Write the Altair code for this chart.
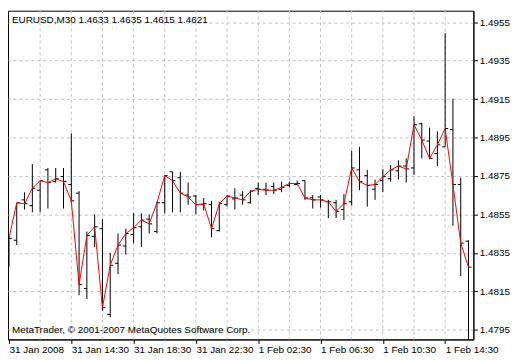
import json
import altair as alt
import pandas as pd

# ---- text ----
header_text = "EURUSD,M30  1.4633 1.4635 1.4615 1.4621"
copyright_text = "MetaTrader, \u00a9 2001-2007 MetaQuotes Software Corp."

# ---- axis labels ----
time_labels = ["31 Jan 2008", "31 Jan 14:30", "31 Jan 18:30", "31 Jan 22:30",
               "1 Feb 02:30", "1 Feb 06:30", "1 Feb 10:30", "1 Feb 14:30"]
price_ticks = [1.4795, 1.4815, 1.4835, 1.4855, 1.4875, 1.4895, 1.4915, 1.4935, 1.4955]

# ---- M30 OHLC bars ----
open_ = [1.48306, 1.48416, 1.48626, 1.48596, 1.48676, 1.48782, 1.48721, 1.48747,
         1.48706, 1.48661, 1.48165, 1.48436, 1.48476, 1.48030, 1.48296, 1.48386,
         1.48446, 1.48486, 1.48526, 1.48461, 1.48611, 1.48772, 1.48741, 1.48651,
         1.48646, 1.48601, 1.48601, 1.48466, 1.48601, 1.48631, 1.48651, 1.48611,
         1.48686, 1.48681, 1.48696, 1.48681, 1.48701, 1.48706, 1.48726, 1.48636,
         1.48641, 1.48616, 1.48611, 1.48576, 1.48616, 1.48782, 1.48752, 1.48681,
         1.48726, 1.48736, 1.48777, 1.48802, 1.48792, 1.49022, 1.48932, 1.48867,
         1.48902, 1.48992, 1.48706, 1.48411]
high = [1.48436, 1.48611, 1.48666, 1.48812, 1.48726, 1.48792, 1.48792, 1.48792,
        1.48972, 1.48671, 1.48461, 1.48551, 1.48526, 1.48351, 1.48451, 1.48476,
        1.48556, 1.48556, 1.48551, 1.48616, 1.48756, 1.48772, 1.48772, 1.48716,
        1.48651, 1.48636, 1.48621, 1.48616, 1.48651, 1.48686, 1.48671, 1.48676,
        1.48716, 1.48716, 1.48716, 1.48721, 1.48721, 1.48726, 1.48726, 1.48651,
        1.48651, 1.48626, 1.48626, 1.48656, 1.48882, 1.48902, 1.48782, 1.48731,
        1.48787, 1.48807, 1.48832, 1.48842, 1.49062, 1.49027, 1.49002, 1.48982,
        1.49493, 1.49152, 1.48741, 1.48416]
low = [1.48276, 1.48391, 1.48576, 1.48561, 1.48561, 1.48581, 1.48716, 1.48581,
       1.48611, 1.48130, 1.48110, 1.48381, 1.48050, 1.48015, 1.48240, 1.48341,
       1.48401, 1.48381, 1.48451, 1.48451, 1.48556, 1.48561, 1.48561, 1.48601,
       1.48551, 1.48571, 1.48431, 1.48461, 1.48591, 1.48576, 1.48601, 1.48606,
       1.48651, 1.48651, 1.48656, 1.48666, 1.48691, 1.48701, 1.48626, 1.48581,
       1.48586, 1.48531, 1.48531, 1.48521, 1.48596, 1.48676, 1.48591, 1.48626,
       1.48666, 1.48721, 1.48731, 1.48716, 1.48756, 1.48842, 1.48837, 1.48802,
       1.48902, 1.48491, 1.48230, 1.47890]
close = [1.48426, 1.48611, 1.48606, 1.48686, 1.48726, 1.48716, 1.48736, 1.48721,
         1.48621, 1.48185, 1.48441, 1.48486, 1.48065, 1.48286, 1.48391, 1.48451,
         1.48481, 1.48521, 1.48501, 1.48611, 1.48752, 1.48726, 1.48661, 1.48641,
         1.48601, 1.48606, 1.48476, 1.48606, 1.48646, 1.48636, 1.48626, 1.48671,
         1.48681, 1.48676, 1.48676, 1.48691, 1.48711, 1.48711, 1.48636, 1.48626,
         1.48626, 1.48616, 1.48566, 1.48606, 1.48792, 1.48721, 1.48701, 1.48706,
         1.48747, 1.48782, 1.48802, 1.48787, 1.49017, 1.48937, 1.48842, 1.48912,
         1.48997, 1.48706, 1.48401, 1.48276]

n = len(close)
df = pd.DataFrame({"idx": list(range(n)), "open": open_, "high": high,
                   "low": low, "close": close})

W, H = 470, 332
FONT = "Liberation Sans"
BARS_PER_LABEL = 8

x_scale = alt.Scale(domain=[-0.125, n - 0.375], nice=False, zero=False)
y_scale = alt.Scale(domain=[1.4790, 1.4961], nice=False, zero=False)

x_axis = alt.Axis(
    values=[i * BARS_PER_LABEL for i in range(len(time_labels))],
    labelExpr=f"{json.dumps(time_labels)}[round(datum.value / {BARS_PER_LABEL})]",
    labelAlign="left", labelFlush=False, labelOverlap=False, grid=False,
    tickSize=4, labelPadding=1, title=None,
)
y_axis = alt.Axis(
    orient="right", values=price_ticks, format=".4f", grid=True,
    gridDash=[3, 3], gridColor="#c0c0c0", gridOpacity=1, tickSize=4,
    labelPadding=2, title=None,
)

X = alt.X("idx:Q", scale=x_scale, axis=x_axis)

grid_df = pd.DataFrame({"g": [BARS_PER_LABEL // 2 * k for k in range(1, 2 * len(time_labels) - 1)]})
grid_v = alt.Chart(grid_df).mark_rule(color="#c0c0c0", strokeDash=[3, 3], strokeWidth=1).encode(
    x=alt.X("g:Q", scale=x_scale, axis=x_axis)
)

base = alt.Chart(df)
wick = base.mark_rule(color="black", strokeWidth=1, clip=True).encode(
    x=X, y=alt.Y("low:Q", scale=y_scale, axis=y_axis), y2="high:Q"
)
open_tick = base.mark_rule(color="black", strokeWidth=1, xOffset=-3, x2Offset=0, clip=True).encode(
    x=X, x2="idx:Q", y=alt.Y("open:Q", scale=y_scale, axis=y_axis)
)
close_tick = base.mark_rule(color="black", strokeWidth=1, xOffset=0, x2Offset=3, clip=True).encode(
    x=X, x2="idx:Q", y=alt.Y("close:Q", scale=y_scale, axis=y_axis)
)
close_line = base.mark_line(color="#ff0000", strokeWidth=1, clip=True).encode(
    x=X, y=alt.Y("close:Q", scale=y_scale, axis=y_axis)
)

header = alt.Chart(pd.DataFrame({"t": [header_text]})).mark_text(
    align="left", baseline="top", font=FONT, fontSize=10, color="black"
).encode(text="t:N", x=alt.value(4), y=alt.value(4))

copyright_ = alt.Chart(pd.DataFrame({"t": [copyright_text]})).mark_text(
    align="left", baseline="alphabetic", font=FONT, fontSize=10, color="black"
).encode(text="t:N", x=alt.value(4), y=alt.value(H - 6))

chart = alt.layer(grid_v, wick, open_tick, close_tick, close_line, header, copyright_).properties(
    width=W, height=H, padding={"left": 0, "top": 0, "right": 2, "bottom": 0},
    background="white",
).configure_view(stroke="black", strokeWidth=1).configure_axis(
    labelFont=FONT, labelFontSize=10, labelColor="black",
    tickColor="black", domainColor="black",
)

chart.save("out.html", embed_options={"renderer": "svg", "actions": False})
